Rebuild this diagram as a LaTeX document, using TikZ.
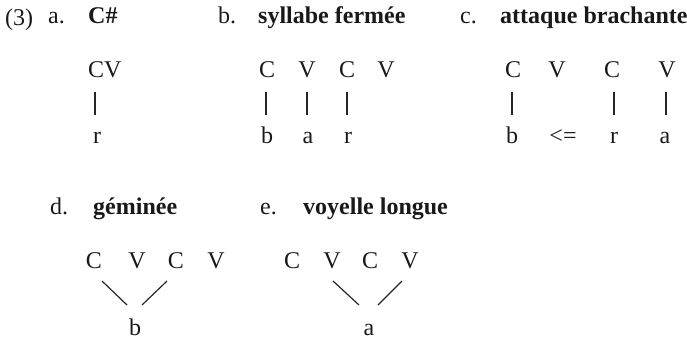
\documentclass[tikz,border=0pt]{standalone}
\usepackage{fontspec}
\setmainfont{Liberation Serif}
\usetikzlibrary{calc}
\tikzset{
  txt/.style={inner sep=0pt, font=\fontsize{24}{28}\selectfont, text=black!90},
  hd/.style={txt, font=\fontsize{24}{28}\selectfont\bfseries, anchor=base west},
  lbl/.style={txt, anchor=base west},
  seg/.style={txt, anchor=base},
  bar/.style={draw=black!85, line width=1.2pt},
}
\begin{document}
\begin{tikzpicture}[x=1pt,y=-1pt]
\useasboundingbox (0,0) rectangle (687,341);
% headers row 1
\node[lbl] (n3) at (5,25) {(3)};
\node[lbl] (la) at (48,23) {a.};
\node[hd] (ha) at (88,23) {C\#};
\node[lbl] (lb) at (218,23) {b.};
\node[hd] (hb) at (258,23) {syllabe fermée};
\node[lbl] (lc) at (460,23) {c.};
\node[hd] (hc) at (500,23) {attaque brachante};
% a
\node[lbl] (aCV) at (88,77) {CV};
\node[lbl] (ar) at (93,143) {r};
\draw[bar] ($(aCV.base west)+(7,15)$) -- ($(ar.base west)+(2,-28)$);
% b
\node[seg] (bC1) at (267,77) {C};
\node[seg] (bV1) at (307,77) {V};
\node[seg] (bC2) at (347,77) {C};
\node[seg] (bV2) at (386,77) {V};
\node[seg] (bb) at (267,143) {b};
\node[seg] (ba) at (308,143) {a};
\node[seg] (br) at (348,143) {r};
\draw[bar] ($(bC1.base)+(-1,15)$) -- ($(bb.base)+(-1,-28)$);
\draw[bar] ($(bV1.base)+(0,15)$) -- ($(ba.base)+(-1,-28)$);
\draw[bar] ($(bC2.base)+(0,15)$) -- ($(br.base)+(-1,-28)$);
% c
\node[seg] (cC1) at (513,77) {C};
\node[seg] (cV1) at (557,77) {V};
\node[seg] (cC2) at (612,77) {C};
\node[seg] (cV2) at (667,77) {V};
\node[seg] (cb) at (512,143) {b};
\node[seg] (cl) at (563,143) {<=};
\node[seg] (cr) at (614,143) {r};
\node[seg] (ca) at (665,143) {a};
\draw[bar] ($(cC1.base)+(-1,15)$) -- ($(cb.base)+(0,-28)$);
\draw[bar] ($(cC2.base)+(2,15)$) -- ($(cr.base)+(0,-28)$);
\draw[bar] ($(cV2.base)+(-1,15)$) -- ($(ca.base)+(1,-28)$);
% headers row 2
\node[lbl] (ld) at (50,214) {d.};
\node[hd] (hd) at (93,214) {géminée};
\node[lbl] (le) at (260,214) {e.};
\node[hd] (he) at (303,214) {voyelle longue};
% d
\node[seg] (dC1) at (94,268) {C};
\node[seg] (dV1) at (137,268) {V};
\node[seg] (dC2) at (176,268) {C};
\node[seg] (dV2) at (216,268) {V};
\node[seg] (db) at (135,335) {b};
\draw[bar] ($(dC1.base)+(8,13)$) -- ($(db.base)+(-8,-30)$);
\draw[bar] ($(dC2.base)+(-9,13)$) -- ($(db.base)+(7,-30)$);
% e
\node[seg] (eC1) at (292,268) {C};
\node[seg] (eV1) at (332,268) {V};
\node[seg] (eC2) at (370,268) {C};
\node[seg] (eV2) at (410,268) {V};
\node[seg] (ea) at (369,335) {a};
\draw[bar] ($(eV1.base)+(1,13)$) -- ($(ea.base)+(-10,-30)$);
\draw[bar] ($(eV2.base)+(-8,13)$) -- ($(ea.base)+(9,-30)$);
\end{tikzpicture}
\end{document}
